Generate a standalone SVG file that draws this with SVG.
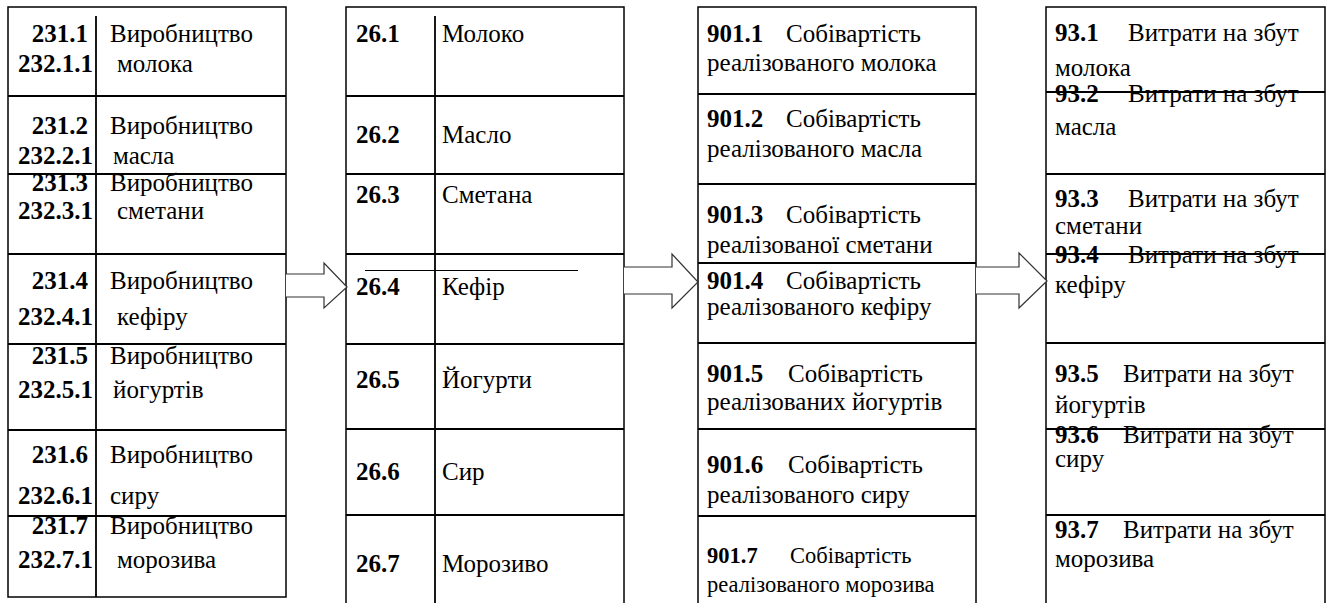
<svg xmlns="http://www.w3.org/2000/svg" width="1330" height="603" viewBox="0 0 1330 603">
  <style>
    .frame { fill: #fff; stroke: #000; stroke-width: 1.5; }
    .code { font-weight: bold; }
  </style>
  <rect width="1330" height="603" fill="#fff"/>
  <g id="production">
    <rect class="frame" x="8" y="7" width="278" height="590"/>
    <g stroke="#000" stroke-width="1.8">
      <line x1="96" y1="16" x2="96" y2="597"/>
      <line x1="8" y1="96" x2="286" y2="96"/>
      <line x1="8" y1="174" x2="286" y2="174"/>
      <line x1="8" y1="254" x2="286" y2="254"/>
      <line x1="8" y1="344" x2="286" y2="344"/>
      <line x1="8" y1="430" x2="286" y2="430"/>
      <line x1="8" y1="516" x2="286" y2="516"/>
    </g>
    <g id="p1">
      <text x="88" y="42" font-family="Liberation Serif" font-size="25" class="code" text-anchor="end">231.1</text>
      <text x="93" y="72" font-family="Liberation Serif" font-size="25" class="code" text-anchor="end">232.1.1</text>
      <text x="110" y="42" font-family="Liberation Serif" font-size="25">Виробництво</text>
      <text x="117" y="72" font-family="Liberation Serif" font-size="25">молока</text>
    </g>
    <g id="p2">
      <text x="88" y="134" font-family="Liberation Serif" font-size="25" class="code" text-anchor="end">231.2</text>
      <text x="93" y="164" font-family="Liberation Serif" font-size="25" class="code" text-anchor="end">232.2.1</text>
      <text x="110" y="134" font-family="Liberation Serif" font-size="25">Виробництво</text>
      <text x="113" y="164" font-family="Liberation Serif" font-size="25">масла</text>
    </g>
    <g id="p3">
      <text x="88" y="191" font-family="Liberation Serif" font-size="25" class="code" text-anchor="end">231.3</text>
      <text x="93" y="219" font-family="Liberation Serif" font-size="25" class="code" text-anchor="end">232.3.1</text>
      <text x="110" y="191" font-family="Liberation Serif" font-size="25">Виробництво</text>
      <text x="117" y="219" font-family="Liberation Serif" font-size="25">сметани</text>
    </g>
    <g id="p4">
      <text x="88" y="289" font-family="Liberation Serif" font-size="25" class="code" text-anchor="end">231.4</text>
      <text x="93" y="325" font-family="Liberation Serif" font-size="25" class="code" text-anchor="end">232.4.1</text>
      <text x="110" y="289" font-family="Liberation Serif" font-size="25">Виробництво</text>
      <text x="117" y="325" font-family="Liberation Serif" font-size="25">кефіру</text>
    </g>
    <g id="p5">
      <text x="88" y="364" font-family="Liberation Serif" font-size="25" class="code" text-anchor="end">231.5</text>
      <text x="93" y="398" font-family="Liberation Serif" font-size="25" class="code" text-anchor="end">232.5.1</text>
      <text x="110" y="364" font-family="Liberation Serif" font-size="25">Виробництво</text>
      <text x="113" y="398" font-family="Liberation Serif" font-size="25">йогуртів</text>
    </g>
    <g id="p6">
      <text x="88" y="463" font-family="Liberation Serif" font-size="25" class="code" text-anchor="end">231.6</text>
      <text x="93" y="504" font-family="Liberation Serif" font-size="25" class="code" text-anchor="end">232.6.1</text>
      <text x="110" y="463" font-family="Liberation Serif" font-size="25">Виробництво</text>
      <text x="110" y="504" font-family="Liberation Serif" font-size="25">сиру</text>
    </g>
    <g id="p7">
      <text x="88" y="534" font-family="Liberation Serif" font-size="25" class="code" text-anchor="end">231.7</text>
      <text x="93" y="568" font-family="Liberation Serif" font-size="25" class="code" text-anchor="end">232.7.1</text>
      <text x="110" y="534" font-family="Liberation Serif" font-size="25">Виробництво</text>
      <text x="117" y="568" font-family="Liberation Serif" font-size="25">морозива</text>
    </g>
  </g>
  <g id="goods">
    <rect class="frame" x="346" y="7" width="278" height="610"/>
    <g stroke="#000" stroke-width="1.8">
      <line x1="435" y1="16" x2="435" y2="603"/>
      <line x1="346" y1="96" x2="624" y2="96"/>
      <line x1="346" y1="174" x2="624" y2="174"/>
      <line x1="346" y1="254" x2="624" y2="254"/>
      <line x1="346" y1="344" x2="624" y2="344"/>
      <line x1="346" y1="429" x2="624" y2="429"/>
      <line x1="346" y1="515" x2="624" y2="515"/>
    </g>
    <line x1="365" y1="270.5" x2="578" y2="270.5" stroke="#000" stroke-width="1"/>
    <g id="g1"><text x="356" y="42" font-family="Liberation Serif" font-size="25" class="code">26.1</text><text x="442" y="42" font-family="Liberation Serif" font-size="25">Молоко</text></g>
    <g id="g2"><text x="356" y="143" font-family="Liberation Serif" font-size="25" class="code">26.2</text><text x="442" y="143" font-family="Liberation Serif" font-size="25">Масло</text></g>
    <g id="g3"><text x="356" y="203" font-family="Liberation Serif" font-size="25" class="code">26.3</text><text x="442" y="203" font-family="Liberation Serif" font-size="25">Сметана</text></g>
    <g id="g4"><text x="356" y="295" font-family="Liberation Serif" font-size="25" class="code">26.4</text><text x="442" y="295" font-family="Liberation Serif" font-size="25">Кефір</text></g>
    <g id="g5"><text x="356" y="388" font-family="Liberation Serif" font-size="25" class="code">26.5</text><text x="442" y="388" font-family="Liberation Serif" font-size="25">Йогурти</text></g>
    <g id="g6"><text x="356" y="480" font-family="Liberation Serif" font-size="25" class="code">26.6</text><text x="442" y="480" font-family="Liberation Serif" font-size="25">Сир</text></g>
    <g id="g7"><text x="356" y="572" font-family="Liberation Serif" font-size="25" class="code">26.7</text><text x="442" y="572" font-family="Liberation Serif" font-size="25">Морозиво</text></g>
  </g>
  <g id="cost">
    <rect class="frame" x="698" y="7" width="278" height="610"/>
    <g stroke="#000" stroke-width="1.8">
      <line x1="698" y1="94" x2="976" y2="94"/>
      <line x1="698" y1="184" x2="976" y2="184"/>
      <line x1="698" y1="263" x2="976" y2="263"/>
      <line x1="698" y1="343" x2="976" y2="343"/>
      <line x1="698" y1="429" x2="976" y2="429"/>
      <line x1="698" y1="516" x2="976" y2="516"/>
    </g>
    <g id="c1">
      <text x="707" y="42" font-family="Liberation Serif" font-size="25"><tspan class="code">901.1</tspan><tspan x="786">Собівартість</tspan></text>
      <text x="707" y="71" font-family="Liberation Serif" font-size="25">реалізованого молока</text>
    </g>
    <g id="c2">
      <text x="707" y="127" font-family="Liberation Serif" font-size="25"><tspan class="code">901.2</tspan><tspan x="786">Собівартість</tspan></text>
      <text x="707" y="157" font-family="Liberation Serif" font-size="25">реалізованого масла</text>
    </g>
    <g id="c3">
      <text x="707" y="223" font-family="Liberation Serif" font-size="25"><tspan class="code">901.3</tspan><tspan x="786">Собівартість</tspan></text>
      <text x="707" y="253" font-family="Liberation Serif" font-size="25">реалізованої сметани</text>
    </g>
    <g id="c4">
      <text x="707" y="289" font-family="Liberation Serif" font-size="25"><tspan class="code">901.4</tspan><tspan x="786">Собівартість</tspan></text>
      <text x="707" y="315" font-family="Liberation Serif" font-size="25">реалізованого кефіру</text>
    </g>
    <g id="c5">
      <text x="707" y="382" font-family="Liberation Serif" font-size="25"><tspan class="code">901.5</tspan><tspan x="788">Собівартість</tspan></text>
      <text x="707" y="410" font-family="Liberation Serif" font-size="25">реалізованих йогуртів</text>
    </g>
    <g id="c6">
      <text x="707" y="473" font-family="Liberation Serif" font-size="25"><tspan class="code">901.6</tspan><tspan x="788">Собівартість</tspan></text>
      <text x="707" y="503" font-family="Liberation Serif" font-size="25">реалізованого сиру</text>
    </g>
    <g id="c7">
      <text x="707" y="563" font-family="Liberation Serif" font-size="22.5"><tspan class="code">901.7</tspan><tspan x="790">Собівартість</tspan></text>
      <text x="707" y="592" font-family="Liberation Serif" font-size="22.5">реалізованого морозива</text>
    </g>
  </g>
  <g id="selling">
    <rect class="frame" x="1046" y="7" width="279" height="610"/>
    <g stroke="#000" stroke-width="1.8">
      <line x1="1046" y1="92" x2="1325" y2="92"/>
      <line x1="1046" y1="174" x2="1325" y2="174"/>
      <line x1="1046" y1="254" x2="1325" y2="254"/>
      <line x1="1046" y1="343" x2="1325" y2="343"/>
      <line x1="1046" y1="429" x2="1325" y2="429"/>
      <line x1="1046" y1="515" x2="1325" y2="515"/>
    </g>
    <g id="s1">
      <text x="1055" y="41" font-family="Liberation Serif" font-size="25"><tspan class="code">93.1</tspan><tspan x="1128">Витрати на збут</tspan></text>
      <text x="1055" y="76" font-family="Liberation Serif" font-size="25">молока</text>
    </g>
    <g id="s2">
      <text x="1055" y="102" font-family="Liberation Serif" font-size="25"><tspan class="code">93.2</tspan><tspan x="1128">Витрати на збут</tspan></text>
      <text x="1055" y="135" font-family="Liberation Serif" font-size="25">масла</text>
    </g>
    <g id="s3">
      <text x="1055" y="207" font-family="Liberation Serif" font-size="25"><tspan class="code">93.3</tspan><tspan x="1128">Витрати на збут</tspan></text>
      <text x="1055" y="234" font-family="Liberation Serif" font-size="25">сметани</text>
    </g>
    <g id="s4">
      <text x="1055" y="263" font-family="Liberation Serif" font-size="25"><tspan class="code">93.4</tspan><tspan x="1128">Витрати на збут</tspan></text>
      <text x="1055" y="293" font-family="Liberation Serif" font-size="25">кефіру</text>
    </g>
    <g id="s5">
      <text x="1055" y="382" font-family="Liberation Serif" font-size="25"><tspan class="code">93.5</tspan><tspan x="1123">Витрати на збут</tspan></text>
      <text x="1055" y="413" font-family="Liberation Serif" font-size="25">йогуртів</text>
    </g>
    <g id="s6">
      <text x="1055" y="443" font-family="Liberation Serif" font-size="25"><tspan class="code">93.6</tspan><tspan x="1123">Витрати на збут</tspan></text>
      <text x="1055" y="467" font-family="Liberation Serif" font-size="25">сиру</text>
    </g>
    <g id="s7">
      <text x="1055" y="538" font-family="Liberation Serif" font-size="25"><tspan class="code">93.7</tspan><tspan x="1123">Витрати на збут</tspan></text>
      <text x="1055" y="567" font-family="Liberation Serif" font-size="25">морозива</text>
    </g>
  </g>
  <g id="connectors" fill="#fff" stroke="#333" stroke-width="1.2">
    <path d="M286,274 H324 V263 L347,287 L324,308 V297 H286"/>
    <path d="M624,267 H672 V254 L698,282 L672,308 V294 H624"/>
    <path d="M976,267 H1019 V253 L1047,281 L1019,308 V294 H976"/>
  </g>
</svg>
